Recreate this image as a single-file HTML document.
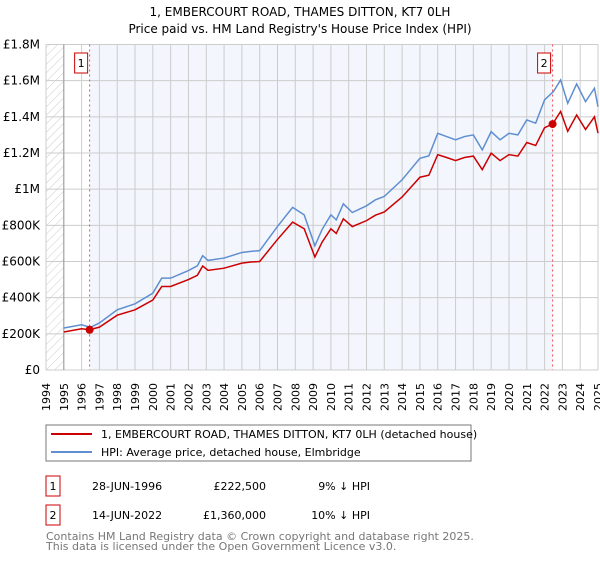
<!DOCTYPE html>
<html><head><meta charset="utf-8"><style>
body{margin:0;background:#fff;font-family:"Liberation Sans","DejaVu Sans",sans-serif;}
svg text{font-family:"DejaVu Sans","Liberation Sans",sans-serif;}
</style></head><body>
<svg id="c" width="600" height="560" xmlns="http://www.w3.org/2000/svg">
<defs><pattern id="hatch" width="6" height="6" patternUnits="userSpaceOnUse" patternTransform="rotate(45)"><line x1="0" y1="0" x2="0" y2="6" stroke="#ccc" stroke-width="1"/></pattern></defs>
<text x="300" y="16" text-anchor="middle" font-size="12">1, EMBERCOURT ROAD, THAMES DITTON, KT7 0LH</text>
<text x="300" y="33" text-anchor="middle" font-size="12">Price paid vs. HM Land Registry's House Price Index (HPI)</text>
<g id="plot"></g>
<g>
<rect x="46" y="425" width="425" height="36" fill="#fff" stroke="#777"/>
<line x1="51" y1="434" x2="92" y2="434" stroke="#cc0000" stroke-width="2"/>
<text x="101" y="438" font-size="11">1, EMBERCOURT ROAD, THAMES DITTON, KT7 0LH (detached house)</text>
<line x1="51" y1="452" x2="92" y2="452" stroke="#5f8fd0" stroke-width="2"/>
<text x="101" y="456" font-size="11">HPI: Average price, detached house, Elmbridge</text>
</g>
<g font-size="11">
<rect x="46" y="476" width="14" height="20" fill="#fff" stroke="#cc0000"/>
<text x="53" y="490" text-anchor="middle">1</text>
<text x="92" y="490">28-JUN-1996</text>
<text x="266" y="490" text-anchor="end">£222,500</text>
<text x="370" y="490" text-anchor="end">9% ↓ HPI</text>
<rect x="46" y="505" width="14" height="20" fill="#fff" stroke="#cc0000"/>
<text x="53" y="519" text-anchor="middle">2</text>
<text x="92" y="519">14-JUN-2022</text>
<text x="266" y="519" text-anchor="end">£1,360,000</text>
<text x="370" y="519" text-anchor="end">10% ↓ HPI</text>
</g>
<text x="46" y="540" font-size="11" fill="#777">Contains HM Land Registry data © Crown copyright and database right 2025.</text>
<text x="46" y="550" font-size="11" fill="#777">This data is licensed under the Open Government Licence v3.0.</text>
</svg>
<script>
const hpiYears=[1995,1996,1996.5,1997,1998,1999,2000,2000.5,2001,2002,2002.5,2002.8,2003.1,2004,2005,2005.5,2006,2007,2007.85,2008.5,2009.1,2009.5,2010,2010.3,2010.7,2011.2,2012,2012.5,2013,2014,2015,2015.5,2016,2016.5,2017,2017.5,2018,2018.5,2019,2019.5,2020,2020.5,2021,2021.5,2022,2022.5,2022.9,2023.3,2023.8,2024.3,2024.8,2025];
const hpiValues=[232,250,236,260,333,366,425,508,508,550,576,632,606,619,650,656,660,794,899,858,687,776,858,830,919,871,908,941,960,1052,1171,1184,1309,1291,1273,1291,1300,1217,1318,1273,1309,1300,1383,1365,1494,1540,1604,1475,1582,1484,1558,1456];
const priceYears=[1995,1996,1996.45,1997,1998,1999,2000,2000.5,2001,2002,2002.5,2002.8,2003.1,2004,2005,2005.5,2006,2007,2007.85,2008.5,2009.1,2009.5,2010,2010.3,2010.7,2011.2,2012,2012.5,2013,2014,2015,2015.5,2016,2016.5,2017,2017.5,2018,2018.5,2019,2019.5,2020,2020.5,2021,2021.5,2022,2022.45,2022.9,2023.3,2023.8,2024.3,2024.8,2025];
const priceValues=[210,228,222.5,237,303,333,387,462,462,500,524,575,551,563,591,597,600,722,818,781,625,706,781,755,836,793,826,856,874,957,1066,1077,1191,1175,1158,1175,1183,1108,1199,1158,1191,1183,1258,1242,1340,1360,1430,1320,1410,1330,1400,1310];
const saleYears=[1996.45,2022.45];
const saleValues=[222.5,1360];
const saleLabels=["1","2"];
const yTicks=[0,200,400,600,800,1000,1200,1400,1600,1800];
const yTickLabels=["£0","£200K","£400K","£600K","£800K","£1M","£1.2M","£1.4M","£1.6M","£1.8M"];
const xTicks=[];for(let y=1994;y<=2025;y++)xTicks.push(y);

const L=46,R=598,T=44.5,B=370,X0=1994,X1=2025,YMAX=1800;
const xs=v=>L+(v-X0)/(X1-X0)*(R-L);
const ys=v=>B-v/YMAX*(B-T);
const NS="http://www.w3.org/2000/svg";
const g=document.getElementById('plot');
function mk(t,a){const e=document.createElementNS(NS,t);for(const k in a)e.setAttribute(k,a[k]);g.appendChild(e);return e;}
let e;
e=mk('rect',{x:L,y:T,width:R-L,height:B-T,fill:'#fff'});


e=mk('rect',{x:xs(saleYears[0]),y:T,width:xs(saleYears[1])-xs(saleYears[0]),height:B-T,fill:'#f3f6fd'});


e=mk('rect',{x:L,y:T,width:xs(1995)-L,height:B-T,fill:'url(#hatch)'});


xTicks.forEach(y=>{
 e=mk('line',{x1:xs(y),x2:xs(y),y1:T,y2:B,stroke:'#ccc','stroke-width':1});
 
 
 const tx=xs(y)+4, ty=383;
 e=mk('text',{x:tx,y:ty,'font-size':11,'text-anchor':'end',transform:'rotate(-90 '+tx+' '+ty+')'});
 e.textContent=String(y);
 
 
});
yTicks.forEach((v,i)=>{
 e=mk('line',{x1:L,x2:R,y1:ys(v),y2:ys(v),stroke:'#ccc','stroke-width':1});
 
 
 e=mk('text',{x:L-6,y:ys(v)+4,'font-size':12,'text-anchor':'end'});
 e.textContent=yTickLabels[i];
 
 
});
e=mk('line',{x1:xs(1995),x2:xs(1995),y1:T,y2:B,stroke:'#999','stroke-width':1});


saleYears.forEach((y,i)=>{
 e=mk('line',{x1:xs(y),x2:xs(y),y1:T,y2:B,stroke:'#f05050','stroke-width':1,'stroke-dasharray':'2,3'});
 
 
 e=mk('rect',{x:xs(y)-15,y:53,width:13,height:20,fill:'#fff',stroke:'#cc0000'});
 
 
 e=mk('text',{x:xs(y)-8.5,y:67,'font-size':11,'text-anchor':'middle'});
 e.textContent=saleLabels[i];
 
 
});
e=mk('polyline',{points:hpiYears.map((y,i)=>xs(y)+','+ys(hpiValues[i])).join(' '),fill:'none',stroke:'#5f8fd0','stroke-width':1.5});


e=mk('polyline',{points:priceYears.map((y,i)=>xs(y)+','+ys(priceValues[i])).join(' '),fill:'none',stroke:'#cc0000','stroke-width':1.5});


saleYears.forEach((y,i)=>{
 e=mk('circle',{cx:xs(y),cy:ys(saleValues[i]),r:4,fill:'#cc0000'});
 
 
});
</script>
</body></html>
